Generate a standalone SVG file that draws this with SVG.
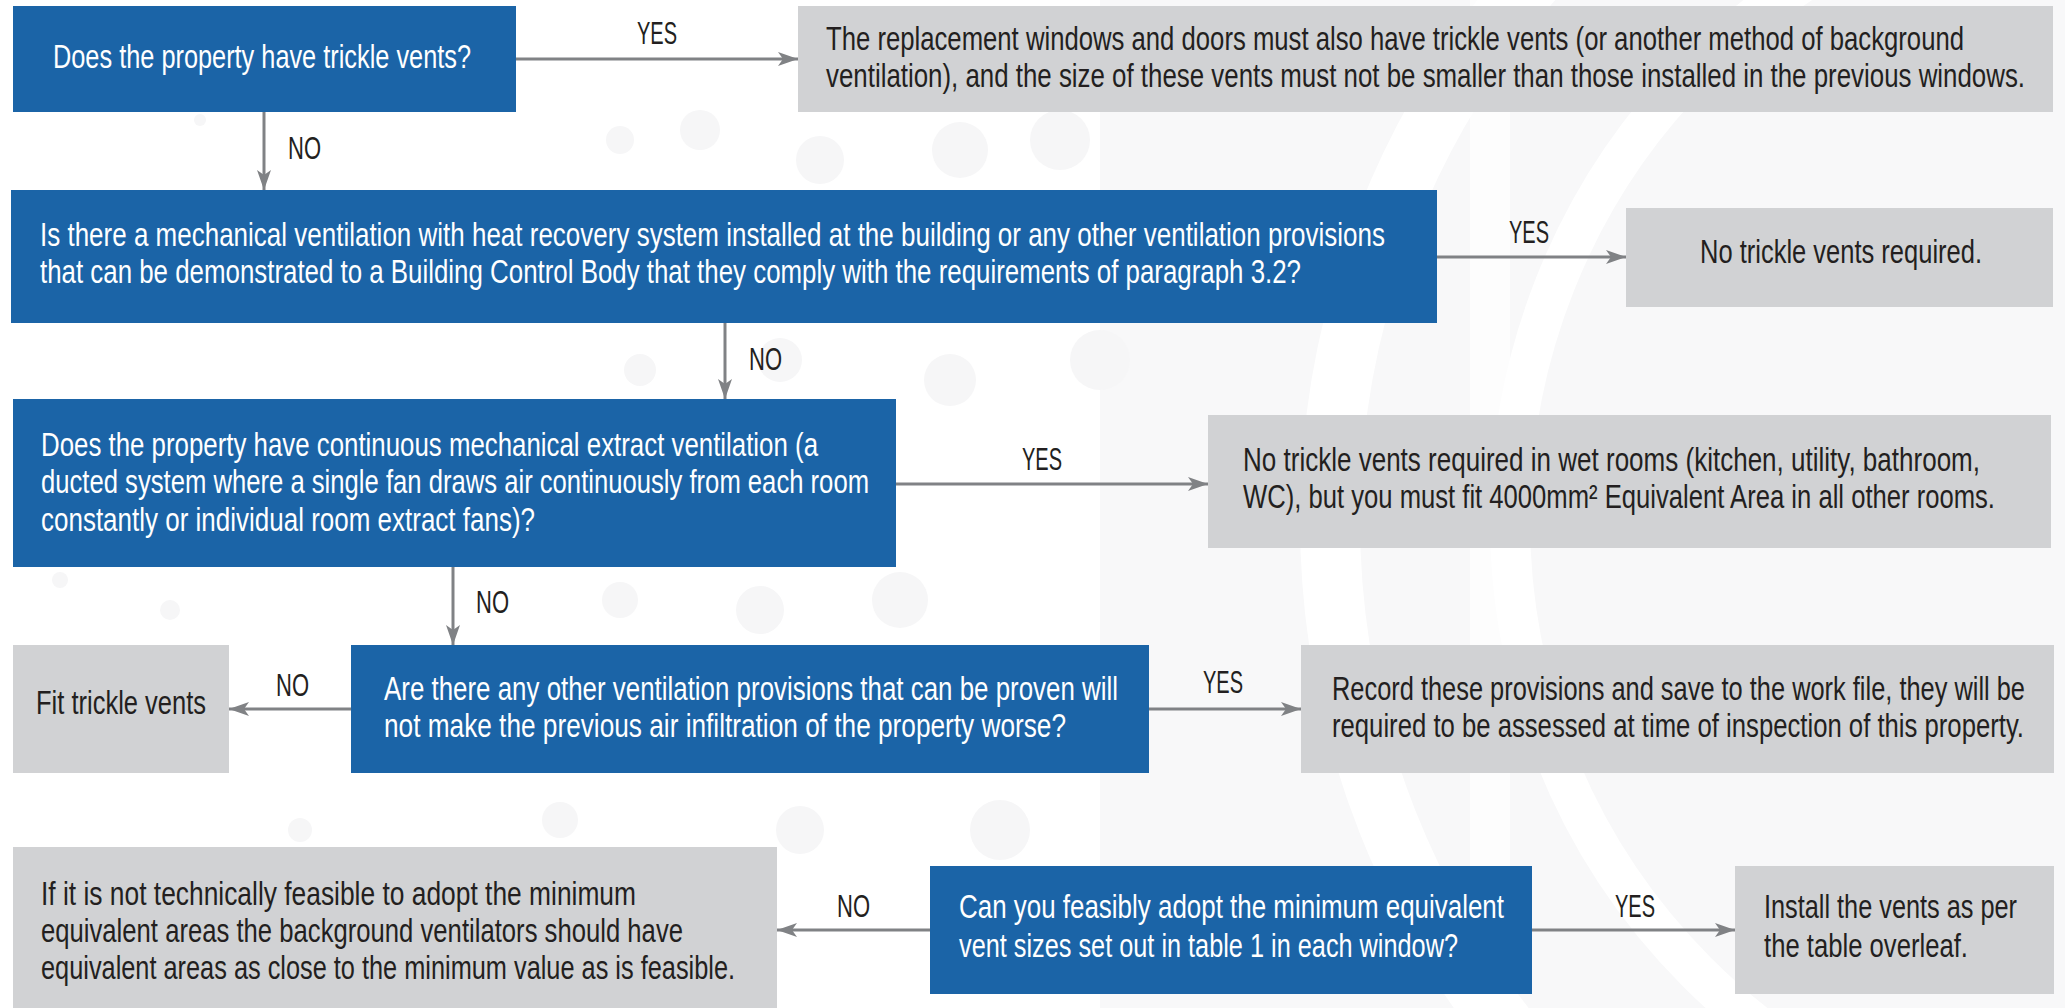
<svg xmlns="http://www.w3.org/2000/svg" width="2065" height="1008" viewBox="0 0 2065 1008">
<style>
.q{fill:#1b64a7}
.r{fill:#d1d2d4}
.t{font-family:"Liberation Sans Narrow","Liberation Sans",Arial,sans-serif;font-size:33px}
.w{fill:#ffffff}
.d{fill:#231f20}
.lbl{font-family:"Liberation Sans Narrow","Liberation Sans",Arial,sans-serif;font-size:32px;fill:#231f20}
.c{stroke:#808285;stroke-width:3;fill:none;marker-end:url(#ah)}
.bg{fill:#f6f6f7}
</style>
<defs>
<marker id="ah" markerUnits="userSpaceOnUse" markerWidth="22" markerHeight="16" refX="20" refY="7" orient="auto">
<path d="M0,0 L20,7 L0,14 L5,7 Z" fill="#808285"/>
</marker>
</defs>
<rect width="2065" height="1008" fill="#ffffff"/>
<g id="background">
<rect x="1100" y="0" width="965" height="1008" fill="#f8f8f9"/>
<circle cx="2150" cy="520" r="820" fill="none" stroke="#ffffff" stroke-width="60"/>
<circle cx="2150" cy="520" r="640" fill="none" stroke="#ffffff" stroke-width="40"/>
<rect x="1470" y="0" width="40" height="1008" fill="#ffffff" opacity="0.7"/>
<circle class="bg" cx="620" cy="140" r="14"/>
<circle class="bg" cx="700" cy="130" r="20"/>
<circle class="bg" cx="820" cy="160" r="24"/>
<circle class="bg" cx="960" cy="150" r="28"/>
<circle class="bg" cx="1060" cy="140" r="30"/>
<circle class="bg" cx="200" cy="120" r="6"/>
<circle class="bg" cx="640" cy="370" r="16"/>
<circle class="bg" cx="780" cy="360" r="22"/>
<circle class="bg" cx="950" cy="380" r="26"/>
<circle class="bg" cx="1100" cy="360" r="30"/>
<circle class="bg" cx="60" cy="580" r="8"/>
<circle class="bg" cx="170" cy="610" r="10"/>
<circle class="bg" cx="620" cy="600" r="18"/>
<circle class="bg" cx="760" cy="610" r="24"/>
<circle class="bg" cx="900" cy="600" r="28"/>
<circle class="bg" cx="300" cy="830" r="12"/>
<circle class="bg" cx="560" cy="820" r="18"/>
<circle class="bg" cx="800" cy="830" r="24"/>
<circle class="bg" cx="1000" cy="830" r="30"/>
</g>
<g id="connectors">
<line class="c" x1="516" y1="59" x2="798" y2="59"/>
<text class="lbl" x="637" y="44" textLength="40" lengthAdjust="spacingAndGlyphs">YES</text>
<line class="c" x1="264" y1="112" x2="264" y2="190"/>
<text class="lbl" x="288" y="159" textLength="33" lengthAdjust="spacingAndGlyphs">NO</text>
<line class="c" x1="1437" y1="257" x2="1626" y2="257"/>
<text class="lbl" x="1509" y="243" textLength="40" lengthAdjust="spacingAndGlyphs">YES</text>
<line class="c" x1="725" y1="323" x2="725" y2="399"/>
<text class="lbl" x="749" y="370" textLength="33" lengthAdjust="spacingAndGlyphs">NO</text>
<line class="c" x1="896" y1="484" x2="1208" y2="484"/>
<text class="lbl" x="1022" y="470" textLength="40" lengthAdjust="spacingAndGlyphs">YES</text>
<line class="c" x1="453" y1="567" x2="453" y2="645"/>
<text class="lbl" x="476" y="613" textLength="33" lengthAdjust="spacingAndGlyphs">NO</text>
<line class="c" x1="351" y1="709" x2="229" y2="709"/>
<text class="lbl" x="276" y="696" textLength="33" lengthAdjust="spacingAndGlyphs">NO</text>
<line class="c" x1="1149" y1="709" x2="1301" y2="709"/>
<text class="lbl" x="1203" y="693" textLength="40" lengthAdjust="spacingAndGlyphs">YES</text>
<line class="c" x1="930" y1="930" x2="777" y2="930"/>
<text class="lbl" x="837" y="917" textLength="33" lengthAdjust="spacingAndGlyphs">NO</text>
<line class="c" x1="1532" y1="930" x2="1735" y2="930"/>
<text class="lbl" x="1615" y="917" textLength="40" lengthAdjust="spacingAndGlyphs">YES</text>
</g>
<g id="q1">
<rect class="q" x="13" y="6" width="503" height="106"/>
<text class="t w" x="53" y="68" textLength="418" lengthAdjust="spacingAndGlyphs">Does the property have trickle vents?</text>
</g>
<g id="a1">
<rect class="r" x="798" y="6" width="1255" height="106"/>
<text class="t d" x="826" y="50" textLength="1138" lengthAdjust="spacingAndGlyphs">The replacement windows and doors must also have trickle vents (or another method of background</text>
<text class="t d" x="826" y="87" textLength="1199" lengthAdjust="spacingAndGlyphs">ventilation), and the size of these vents must not be smaller than those installed in the previous windows.</text>
</g>
<g id="q2">
<rect class="q" x="11" y="190" width="1426" height="133"/>
<text class="t w" x="40" y="246" textLength="1345" lengthAdjust="spacingAndGlyphs">Is there a mechanical ventilation with heat recovery system installed at the building or any other ventilation provisions</text>
<text class="t w" x="40" y="283" textLength="1261" lengthAdjust="spacingAndGlyphs">that can be demonstrated to a Building Control Body that they comply with the requirements of paragraph 3.2?</text>
</g>
<g id="a2">
<rect class="r" x="1626" y="208" width="427" height="99"/>
<text class="t d" x="1700" y="263" textLength="282" lengthAdjust="spacingAndGlyphs">No trickle vents required.</text>
</g>
<g id="q3">
<rect class="q" x="13" y="399" width="883" height="168"/>
<text class="t w" x="41" y="456" textLength="777" lengthAdjust="spacingAndGlyphs">Does the property have continuous mechanical extract ventilation (a</text>
<text class="t w" x="41" y="493" textLength="828" lengthAdjust="spacingAndGlyphs">ducted system where a single fan draws air continuously from each room</text>
<text class="t w" x="41" y="531" textLength="494" lengthAdjust="spacingAndGlyphs">constantly or individual room extract fans)?</text>
</g>
<g id="a3">
<rect class="r" x="1208" y="415" width="843" height="133"/>
<text class="t d" x="1243" y="471" textLength="737" lengthAdjust="spacingAndGlyphs">No trickle vents required in wet rooms (kitchen, utility, bathroom,</text>
<text class="t d" x="1243" y="508" textLength="752" lengthAdjust="spacingAndGlyphs">WC), but you must fit 4000mm² Equivalent Area in all other rooms.</text>
</g>
<g id="a4">
<rect class="r" x="13" y="645" width="216" height="128"/>
<text class="t d" x="36" y="714" textLength="170" lengthAdjust="spacingAndGlyphs">Fit trickle vents</text>
</g>
<g id="q4">
<rect class="q" x="351" y="645" width="798" height="128"/>
<text class="t w" x="384" y="700" textLength="734" lengthAdjust="spacingAndGlyphs">Are there any other ventilation provisions that can be proven will</text>
<text class="t w" x="384" y="737" textLength="682" lengthAdjust="spacingAndGlyphs">not make the previous air infiltration of the property worse?</text>
</g>
<g id="a5">
<rect class="r" x="1301" y="645" width="753" height="128"/>
<text class="t d" x="1332" y="700" textLength="693" lengthAdjust="spacingAndGlyphs">Record these provisions and save to the work file, they will be</text>
<text class="t d" x="1332" y="737" textLength="692" lengthAdjust="spacingAndGlyphs">required to be assessed at time of inspection of this property.</text>
</g>
<g id="a6">
<rect class="r" x="13" y="847" width="764" height="161"/>
<text class="t d" x="41" y="905" textLength="595" lengthAdjust="spacingAndGlyphs">If it is not technically feasible to adopt the minimum</text>
<text class="t d" x="41" y="942" textLength="642" lengthAdjust="spacingAndGlyphs">equivalent areas the background ventilators should have</text>
<text class="t d" x="41" y="979" textLength="694" lengthAdjust="spacingAndGlyphs">equivalent areas as close to the minimum value as is feasible.</text>
</g>
<g id="q5">
<rect class="q" x="930" y="866" width="602" height="128"/>
<text class="t w" x="959" y="918" textLength="545" lengthAdjust="spacingAndGlyphs">Can you feasibly adopt the minimum equivalent</text>
<text class="t w" x="959" y="957" textLength="499" lengthAdjust="spacingAndGlyphs">vent sizes set out in table 1 in each window?</text>
</g>
<g id="a7">
<rect class="r" x="1735" y="866" width="319" height="128"/>
<text class="t d" x="1764" y="918" textLength="253" lengthAdjust="spacingAndGlyphs">Install the vents as per</text>
<text class="t d" x="1764" y="957" textLength="204" lengthAdjust="spacingAndGlyphs">the table overleaf.</text>
</g>
</svg>
